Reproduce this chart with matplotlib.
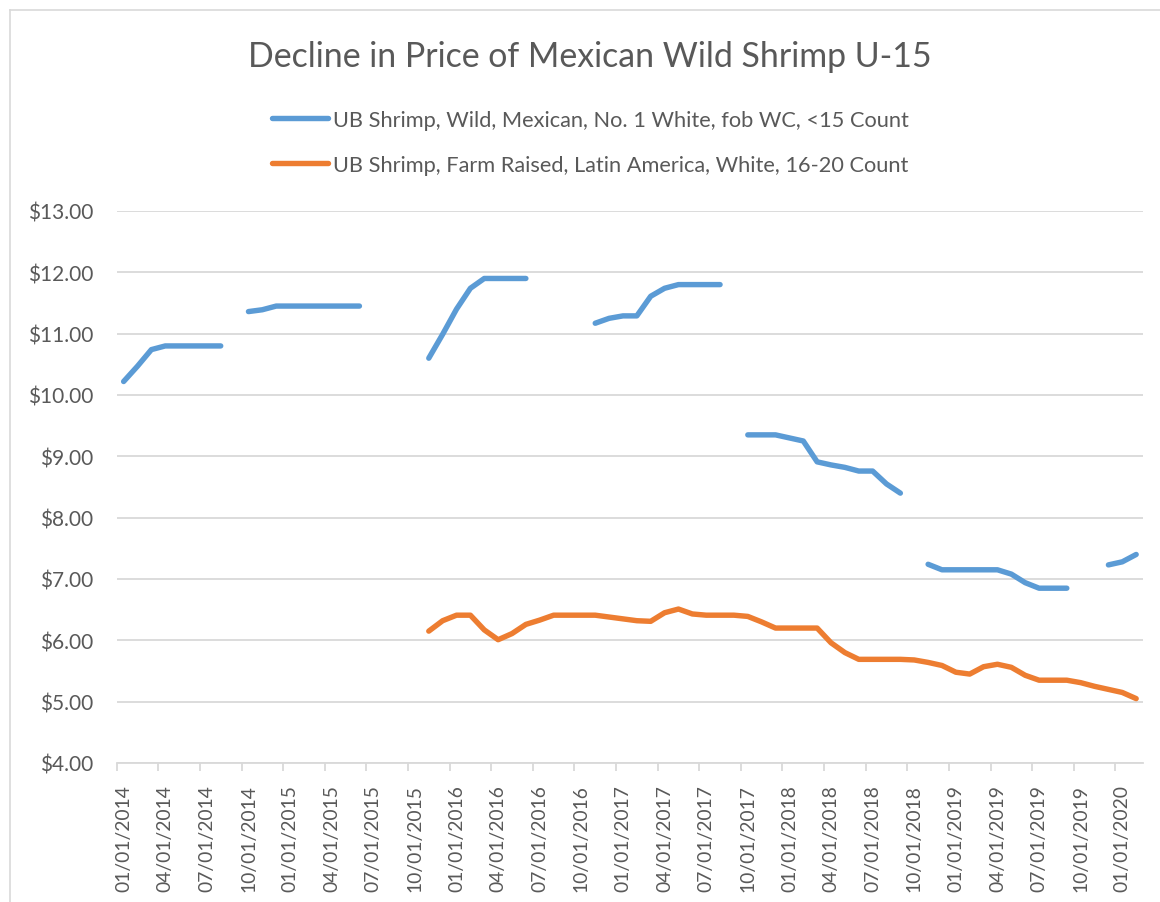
import numpy as np
import matplotlib
matplotlib.use("Agg")
import matplotlib.pyplot as plt
from matplotlib.lines import Line2D

plt.rcParams['font.family'] = ['Lato', 'DejaVu Sans']

nan = np.nan

# 74 monthly categories: 01/2014 .. 02/2020
months = [f"{m:02d}/01/{y}" for y in range(2014, 2021) for m in range(1, 13)][:74]

wild = [10.22, 10.47, 10.74, 10.80, 10.80, 10.80, 10.80, 10.80, nan,
        11.36, 11.39, 11.45, 11.45, 11.45, 11.45, 11.45, 11.45, 11.45,
        nan, nan, nan, nan,
        10.60, 10.99, 11.40, 11.74, 11.90, 11.90, 11.90, 11.90,
        nan, nan, nan, nan,
        11.17, 11.25, 11.29, 11.29, 11.61, 11.74, 11.80, 11.80, 11.80, 11.80,
        nan,
        9.35, 9.35, 9.35, 9.30, 9.25, 8.91, 8.86, 8.82, 8.76, 8.76, 8.55, 8.40,
        nan,
        7.24, 7.15, 7.15, 7.15, 7.15, 7.15, 7.08, 6.94, 6.85, 6.85, 6.85,
        nan, nan,
        7.23, 7.28, 7.40]

farm = [nan] * 22 + [
    6.15, 6.32, 6.41, 6.41, 6.17, 6.01, 6.11, 6.26, 6.33, 6.41,
    6.41, 6.41, 6.41, 6.38, 6.35, 6.32, 6.31, 6.45, 6.51, 6.43,
    6.41, 6.41, 6.41, 6.39, 6.30, 6.20, 6.20, 6.20, 6.20, 5.96,
    5.80, 5.69, 5.69, 5.69, 5.69, 5.68, 5.64, 5.59, 5.48, 5.45,
    5.57, 5.61, 5.56, 5.43, 5.35, 5.35, 5.35, 5.31, 5.25, 5.20,
    5.15, 5.05]

y_ticks = [4, 5, 6, 7, 8, 9, 10, 11, 12, 13]
y_labels = [f"${v:.2f}" for v in y_ticks]

title = "Decline in Price of Mexican Wild Shrimp U-15"
label_wild = "UB Shrimp, Wild, Mexican, No. 1 White, fob WC, <15 Count"
label_farm = "UB Shrimp, Farm Raised, Latin America, White, 16-20 Count"

BLUE = "#5B9BD5"
ORANGE = "#ED7D31"
TXT = "#595959"
GRID = "#D9D9D9"

W, H = 1160, 903
fig = plt.figure(figsize=(W / 100, H / 100), dpi=100)
fig.patch.set_facecolor("white")

# outer chart border (left and top visible)
fig.add_artist(Line2D([10 / W, 10 / W], [0, 1 - 11 / H], color="#D9D9D9", lw=1.2))
fig.add_artist(Line2D([10 / W, 1], [1 - 11 / H, 1 - 11 / H], color="#D9D9D9", lw=1.2))

left, right, bottom, top = 116.7, 1143.1, 764, 212
ax = fig.add_axes([left / W, 1 - bottom / H, (right - left) / W, (bottom - top) / H])

x = np.arange(len(months))
ax.plot(x, wild, color=BLUE, lw=3.9, solid_capstyle="round", solid_joinstyle="round", label=label_wild)
ax.plot(x, farm, color=ORANGE, lw=3.9, solid_capstyle="round", solid_joinstyle="round", label=label_farm)

ax.set_xlim(-0.5, len(months) - 0.5)
ax.set_ylim(4, 13)
ax.set_yticks(y_ticks)
ax.set_yticklabels(y_labels)
ax.grid(axis="y", color=GRID, lw=1.3)
ax.set_axisbelow(True)

for s in ["top", "right", "left"]:
    ax.spines[s].set_visible(False)
ax.spines["bottom"].set_color(GRID)
ax.spines["bottom"].set_linewidth(1.3)

ax.tick_params(axis="y", length=0, pad=17, labelsize=15, labelcolor=TXT)

lab_idx = list(range(0, len(months), 3))
ax.set_xticks(lab_idx)
ax.set_xticklabels([months[i] for i in lab_idx], rotation=90)
ax.tick_params(axis="x", which="major", length=0, pad=15, labelsize=13.9, labelcolor=TXT)
ax.set_xticks([i - 0.5 for i in lab_idx], minor=True)
ax.tick_params(axis="x", which="minor", length=6, width=1.3, color=GRID)

fig.text(590 / W, 1 - 57 / H, title, ha="center", va="center", fontsize=24.4, color=TXT)

leg = fig.legend(loc="upper left", bbox_to_anchor=(272 / W, 1 - 111 / H), frameon=False,
                 fontsize=15.7, handlelength=2.55, handletextpad=0.25, labelspacing=1.15,
                 borderpad=0, borderaxespad=0, labelcolor=TXT)

fig.savefig("out.png", dpi=100)
